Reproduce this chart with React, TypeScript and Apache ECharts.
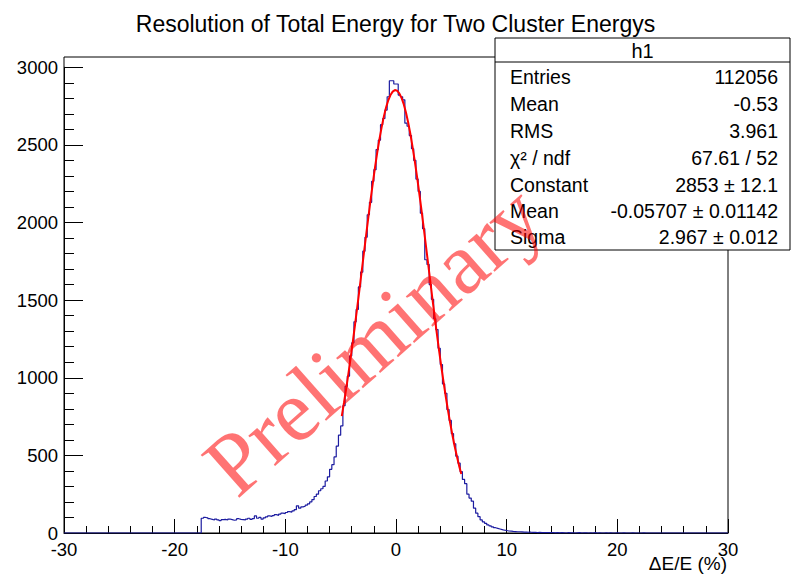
import React, { useEffect, useRef } from "react";
import * as echarts from "echarts";

// ---- data ----
const X_MIN = -30;
const X_MAX = 30;
const BIN_WIDTH = 0.2;
const FIRST_FILLED_EDGE = -17.6;

// counts for bins with left edges -17.6, -17.4, ... , -5.0
const leftTailCounts = [
  95, 100, 98, 92, 88, 84, 90, 85, 80, 86, 88, 84, 90, 86, 82, 85, 92, 88, 86, 84,
  90, 95, 88, 93, 110, 95, 100, 90, 98, 104, 110, 106, 112, 118, 114, 122, 128, 125, 132,
  138, 135, 142, 150, 175, 160, 168, 172, 180, 188, 200, 215, 235, 250, 272, 285, 300,
  335, 362, 410, 440, 490, 560, 630, 690,
];
// counts for bins with left edges -4.8 ... 5.8
const coreCounts = [
  820, 945, 1010, 1140, 1225, 1360, 1440, 1585, 1680, 1815, 1905, 2050, 2130, 2265,
  2340, 2470, 2530, 2630, 2670, 2724, 2810, 2913, 2913, 2892,
  2892, 2821, 2810, 2790, 2640, 2620, 2560, 2475, 2400, 2280, 2200, 2060, 1960, 1760,
  1730, 1600, 1505, 1380, 1310, 1190, 1085, 960, 900, 795, 725, 640, 575, 495, 450, 395,
];
// counts for bins with left edges 6.0 ...
const rightTailCounts = [
  345, 318, 250, 225, 205, 160, 128, 105, 84, 72, 62, 52, 46, 40, 34, 30, 26, 22, 18, 16,
  13, 12, 10, 9, 8, 8, 7, 6, 6, 5, 5, 4, 5, 3, 4, 3, 3, 2, 3, 2, 2, 1, 2,
  1, 2, 1, 0, 2, 1, 1, 0, 1, 2, 0, 1, 1, 0, 1, 0, 2, 0, 1, 0, 0, 1, 0, 1, 0, 0, 1, 0, 0,
  1, 0, 0, 0, 1, 0, 0, 0, 0, 1, 0,
];

// Gaussian fit curve, points from x = -4.9 in steps of 0.2
const FIT_START = -4.9;
const FIT_STEP = 0.2;
const fitValues = [
  753, 839, 930, 1026, 1128, 1233, 1343, 1455, 1570, 1686, 1803, 1919, 2033, 2144, 2251,
  2353, 2448, 2535, 2613, 2682, 2740, 2787, 2821, 2843, 2853,
  2849, 2832, 2803, 2762, 2708, 2644, 2570, 2486, 2394, 2295, 2190, 2081, 1968, 1853,
  1736, 1620, 1504, 1391, 1280, 1172, 1069, 971, 877, 789, 707, 630, 559, 494, 434, 380,
];

const statsTitle = "h1";
const statsLabels = ["Entries", "Mean", "RMS", "χ² / ndf", "Constant", "Mean", "Sigma"];
const statsValues = [
  "112056",
  "-0.53",
  "3.961",
  "67.61 / 52",
  "2853 ± 12.1",
  "-0.05707 ± 0.01142",
  "2.967 ± 0.012",
];

const TITLE = "Resolution of Total Energy for Two Cluster Energys";
const X_TITLE = "ΔE/E (%)";
const WATERMARK = "Preliminary";

const SANS = '"Liberation Sans", Arial, Helvetica, sans-serif';
const SERIF = '"Liberation Serif", "Times New Roman", serif';

function buildHistogram(): [number, number][] {
  const nBins = Math.round((X_MAX - X_MIN) / BIN_WIDTH);
  const counts: number[] = new Array(nBins).fill(0);
  const filled = [...leftTailCounts, ...coreCounts, ...rightTailCounts];
  const startIdx = Math.round((FIRST_FILLED_EDGE - X_MIN) / BIN_WIDTH);
  filled.forEach((v, i) => {
    if (startIdx + i < nBins) counts[startIdx + i] = v;
  });
  const pts: [number, number][] = counts.map((v, i) => [X_MIN + i * BIN_WIDTH, v]);
  pts.push([X_MAX, counts[nBins - 1]]);
  return pts;
}

export default function App() {
  const ref = useRef<HTMLDivElement>(null);

  useEffect(() => {
    if (!ref.current) return;
    const chart = echarts.init(ref.current, null, { renderer: "svg" });

    const histData = buildHistogram();
    const fitData = fitValues.map((v, i) => [FIT_START + i * FIT_STEP, v]);

    const boxX = 495;
    const boxY = 38;
    const boxW = 295;
    const boxH = 212;
    const rowY = [77, 104, 131, 158, 185, 211, 237];

    const txt = (text: string, x: number, y: number, size: number, align: string, z = 52) => ({
      type: "text",
      x,
      y,
      style: {
        text,
        fill: "#000",
        font: `${size}px ${SANS}`,
        align,
        verticalAlign: "middle",
        textAlign: align,
        textVerticalAlign: "middle",
      },
      z,
    });

    const statsGraphics: any[] = [
      {
        type: "rect",
        shape: { x: boxX, y: boxY, width: boxW, height: boxH },
        style: { fill: "#fff", stroke: "#000", lineWidth: 1 },
        z: 50,
      },
      {
        type: "line",
        shape: { x1: boxX, y1: 62, x2: boxX + boxW, y2: 62 },
        style: { stroke: "#000", lineWidth: 1 },
        z: 51,
      },
      txt(statsTitle, boxX + boxW / 2, 51, 20, "center"),
    ];
    statsLabels.forEach((lab, i) => {
      statsGraphics.push(txt(lab, 510, rowY[i], 19.5, "left"));
      statsGraphics.push(txt(statsValues[i], 778, rowY[i], 19.5, "right"));
    });

    const option: any = {
      animation: false,
      backgroundColor: "#fff",
      title: {
        text: TITLE,
        left: "center",
        top: 7,
        textStyle: { fontSize: 23, fontWeight: "normal", fontFamily: SANS, color: "#000" },
      },
      grid: [
        {
          left: 64,
          top: 57,
          width: 664,
          height: 476,
          show: true,
          borderColor: "#000",
          borderWidth: 1,
          backgroundColor: "transparent",
        },
        { left: 64, top: 67.25, width: 664, height: 465.75 },
      ],
      xAxis: [
        {
          gridIndex: 0,
          type: "value",
          min: X_MIN,
          max: X_MAX,
          interval: 10,
          axisLine: { show: true, onZero: false, lineStyle: { color: "#000", width: 1 } },
          axisTick: { show: true, inside: true, length: 14, lineStyle: { color: "#000" } },
          minorTick: { show: true, splitNumber: 5, length: 7, lineStyle: { color: "#000" } },
          splitLine: { show: false },
          minorSplitLine: { show: false },
          axisLabel: {
            fontSize: 18.5,
            color: "#000",
            margin: 7,
            fontFamily: SANS,
            formatter: (v: number) => String(v),
          },
        },
        { gridIndex: 1, type: "value", min: X_MIN, max: X_MAX, show: false },
      ],
      yAxis: [
        {
          gridIndex: 0,
          type: "value",
          min: 0,
          max: 3066,
          show: false,
          splitLine: { show: false },
        },
        {
          gridIndex: 1,
          type: "value",
          min: 0,
          max: 3000,
          interval: 500,
          axisLine: { show: true, onZero: false, lineStyle: { color: "#000", width: 1 } },
          axisTick: { show: true, inside: true, length: 19, lineStyle: { color: "#000" } },
          minorTick: { show: true, splitNumber: 5, length: 10, lineStyle: { color: "#000" } },
          splitLine: { show: false },
          minorSplitLine: { show: false },
          axisLabel: {
            fontSize: 18.5,
            color: "#000",
            margin: 6,
            fontFamily: SANS,
            formatter: (v: number) => String(v),
          },
        },
      ],
      series: [
        {
          type: "line",
          xAxisIndex: 0,
          yAxisIndex: 0,
          step: "end",
          data: histData,
          symbol: "none",
          lineStyle: { color: "#1c1ca0", width: 1.2 },
          z: 3,
        },
        {
          type: "line",
          xAxisIndex: 0,
          yAxisIndex: 0,
          data: fitData,
          symbol: "none",
          smooth: false,
          lineStyle: { color: "#ff0000", width: 2 },
          z: 4,
        },
      ],
      graphic: [
        ...statsGraphics,
        txt(X_TITLE, 727, 563, 19, "right", 60),
        {
          type: "text",
          x: 373,
          y: 340,
          rotation: (41.5 * Math.PI) / 180,
          style: {
            text: WATERMARK,
            fill: "rgba(255,0,0,0.55)",
            font: `88px ${SERIF}`,
            align: "center",
            verticalAlign: "middle",
            textAlign: "center",
            textVerticalAlign: "middle",
          },
          z: 100,
        },
      ],
    };

    chart.setOption(option);
    return () => chart.dispose();
  }, []);

  return (
    <div
      ref={ref}
      style={{ position: "fixed", left: 0, top: 0, width: 791, height: 574, background: "#fff" }}
    />
  );
}
